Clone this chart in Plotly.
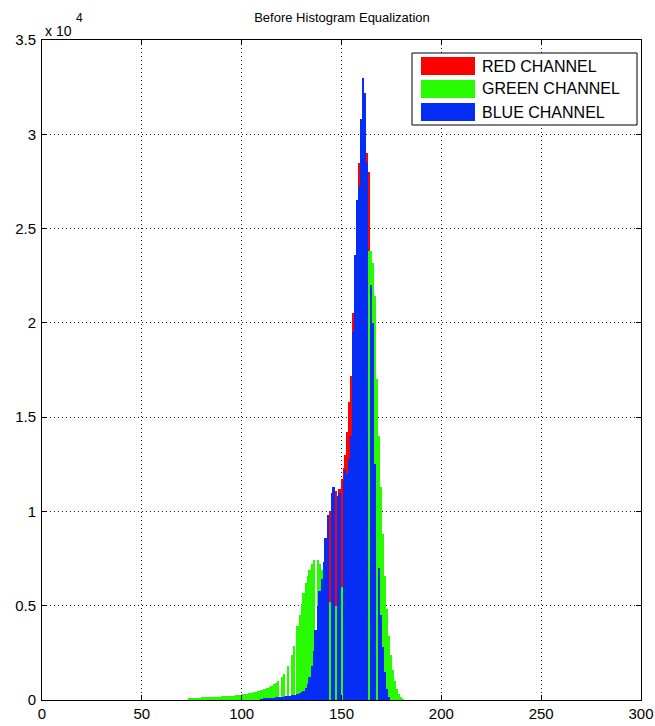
import plotly.graph_objects as go

# ---------------- data ----------------
RED_START = 118
RED_COUNTS = [50, 60, 70, 80, 90, 100, 110, 120, 140, 160,
              190, 230, 290, 370, 480, 640, 880, 1250, 1800, 2600,
              3700, 4900, 6000, 7000, 8200, 9400, 10000, 10800, 11200, 11100,
              10600, 11200, 11700, 12300, 13000, 14200, 15800, 17200, 20500, 22000,
              25000, 28500, 30000, 31000, 31500, 29000, 28000, 22500, 18000, 13000,
              9000, 6000, 3800, 2200, 1100, 500, 200, 60]

GREEN_START = 74
GREEN_COUNTS = [60, 100, 110, 120, 130, 130, 140, 140, 150, 150,
                160, 160, 170, 170, 180, 180, 190, 190, 200, 200,
                210, 220, 230, 240, 250, 260, 280, 300, 320, 340,
                360, 380, 400, 430, 460, 490, 520, 560, 600, 650,
                700, 760, 830, 910, 1000, 0, 1230, 1380, 0, 1780,
                0, 2400, 2850, 0, 3900, 4500, 5100, 5700, 6200, 6600,
                6900, 7200, 7400, 0, 7450, 7200, 6900, 6500, 6000, 5500,
                5200, 5000, 5000, 5000, 5200, 5500, 6000, 6800, 7800, 9000,
                10500, 12000, 13500, 15000, 16500, 17500, 18500, 19500, 21000, 22800,
                23800, 23800, 23200, 21400, 17000, 14000, 11300, 8800, 6600, 4800,
                3400, 2400, 1600, 1000, 600, 320, 150, 50]

BLUE_START = 110
BLUE_COUNTS = [40, 60, 80, 100, 110, 120, 130, 140, 150, 160,
               170, 180, 190, 200, 220, 240, 260, 290, 330, 390,
               400, 500, 650, 850, 1200, 1800, 2600, 3700, 5000, 5800,
               6400, 7300, 8600, 9800, 0, 11000, 11300, 0, 10800, 11000,
               0, 11600, 12200, 12000, 12800, 14000, 19500, 23600, 26500, 27200,
               30800, 33000, 32200, 28500, 0, 22000, 20000, 12500, 0, 7000,
               4500, 2800, 1500, 600, 150]

CHANNELS = ["RED CHANNEL", "GREEN CHANNEL", "BLUE CHANNEL"]
COLORS = ["rgb(255,0,0)", "rgb(40,250,0)", "rgb(5,45,245)"]

X_TICKS = [0, 50, 100, 150, 200, 250, 300]
Y_TICKS = [0, 5000, 10000, 15000, 20000, 25000, 30000, 35000]
Y_TICK_TEXT = ["0", "0.5", "1", "1.5", "2", "2.5", "3", "3.5"]

FONT = "Liberation Sans, Arial, sans-serif"

W, H = 655, 726
L, R, T, B = 42, 14, 40, 26


def px(xp):
    return (xp - L) / (W - L - R)


def py(yp):
    return (H - B - yp) / (H - T - B)


fig = go.Figure()
series = [(RED_START, RED_COUNTS), (GREEN_START, GREEN_COUNTS), (BLUE_START, BLUE_COUNTS)]
for (start, counts), name, col in zip(series, CHANNELS, COLORS):
    fig.add_trace(go.Bar(
        x=list(range(start, start + len(counts))),
        y=counts,
        width=1,
        name=name,
        marker=dict(color=col, line=dict(width=0)),
        showlegend=False,
    ))

axis_common = dict(
    automargin=False,
    showline=True, linecolor="black", linewidth=1, mirror="ticks",
    ticks="inside", ticklen=5, tickcolor="black",
    showgrid=True, gridcolor="rgb(30,30,30)", gridwidth=1, griddash="1px,3px",
    zeroline=False, tickfont=dict(family=FONT, size=15, color="black"),
)

fig.update_layout(
    width=W, height=H,
    margin=dict(l=L, r=R, t=T, b=B, autoexpand=False),
    paper_bgcolor="white", plot_bgcolor="white",
    barmode="overlay", bargap=0,
    font=dict(family=FONT, color="black"),
    title=dict(text="Before Histogram Equalization", x=px(342), xref="paper",
               xanchor="center", y=1 - 17 / H, yanchor="middle",
               font=dict(family=FONT, size=13, color="black")),
    xaxis=dict(range=[0, 300], tickvals=X_TICKS, **axis_common),
    yaxis=dict(range=[0, 35000], tickvals=Y_TICKS, ticktext=Y_TICK_TEXT,
               ticklabelstandoff=2, **axis_common),
    showlegend=False,
)

# exponent label
fig.add_annotation(text="x 10", xref="paper", yref="paper", x=px(43), y=py(31),
                   xanchor="left", yanchor="middle", showarrow=False,
                   font=dict(family=FONT, size=14, color="black"))
fig.add_annotation(text="4", xref="paper", yref="paper", x=px(74), y=py(18),
                   xanchor="left", yanchor="middle", showarrow=False,
                   font=dict(family=FONT, size=12, color="black"))

# legend box drawn like MATLAB's
fig.add_shape(type="rect", xref="paper", yref="paper",
              x0=px(412), x1=px(637), y0=py(125), y1=py(53),
              line=dict(color="black", width=1), fillcolor="white", layer="above")
rows = [(57, 75), (80, 98), (103, 121)]
for (y0, y1), name, col in zip(rows, CHANNELS, COLORS):
    fig.add_shape(type="rect", xref="paper", yref="paper",
                  x0=px(421), x1=px(475), y0=py(y1), y1=py(y0),
                  line=dict(width=0), fillcolor=col, layer="above")
    fig.add_annotation(text=name, xref="paper", yref="paper",
                       x=px(480), y=py((y0 + y1) / 2), xanchor="left", yanchor="middle",
                       showarrow=False, font=dict(family=FONT, size=16, color="black"))

fig.write_html(
    "out.html",
    config={"displayModeBar": False},
    post_script="document.body.style.margin='0';document.body.style.padding='0';"
                "document.body.style.overflow='hidden';",
)
